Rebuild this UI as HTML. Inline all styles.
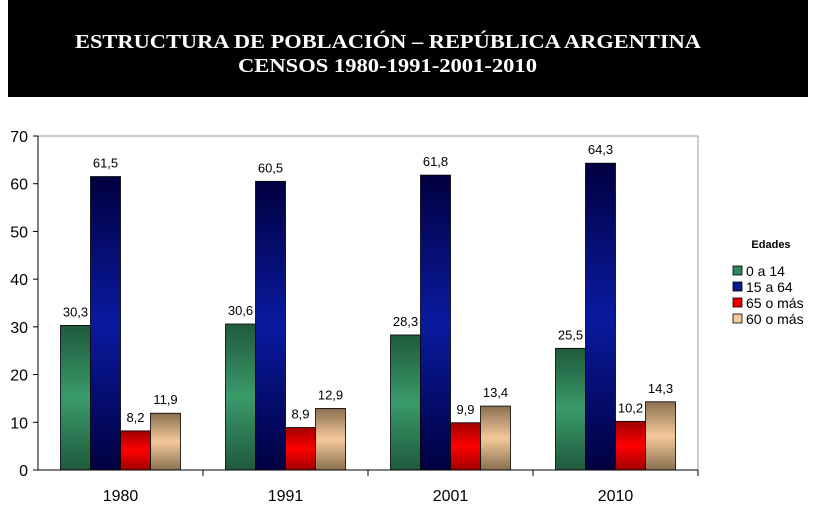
<!DOCTYPE html>
<html><head><meta charset="utf-8"><style>
body{margin:0;background:#fff;width:817px;height:508px;overflow:hidden;font-family:"Liberation Sans",sans-serif}
</style></head><body>
<svg width="817" height="508">
<defs>
<linearGradient id="gG" x1="0" y1="0" x2="0" y2="1"><stop offset="0" stop-color="#1f5a3c"/><stop offset="0.5" stop-color="#3a9a6a"/><stop offset="1" stop-color="#1f5a3c"/></linearGradient>
<linearGradient id="gB" x1="0" y1="0" x2="0" y2="1"><stop offset="0" stop-color="#000040"/><stop offset="0.5" stop-color="#0a1aa0"/><stop offset="1" stop-color="#000040"/></linearGradient>
<linearGradient id="gR" x1="0" y1="0" x2="0" y2="1"><stop offset="0" stop-color="#a00000"/><stop offset="0.5" stop-color="#ff0000"/><stop offset="1" stop-color="#a00000"/></linearGradient>
<linearGradient id="gT" x1="0" y1="0" x2="0" y2="1"><stop offset="0" stop-color="#8a7050"/><stop offset="0.5" stop-color="#f5c89a"/><stop offset="1" stop-color="#8a7050"/></linearGradient>
</defs>
<rect x="8" y="0" width="800" height="97" fill="#000"/>
<text x="75" y="48" textLength="626" lengthAdjust="spacingAndGlyphs" fill="#fff" font-family="Liberation Serif,serif" font-weight="bold" font-size="20">ESTRUCTURA DE POBLACIÓN  – REPÚBLICA ARGENTINA</text>
<text x="238" y="72" textLength="299" lengthAdjust="spacingAndGlyphs" fill="#fff" font-family="Liberation Serif,serif" font-weight="bold" font-size="20">CENSOS 1980-1991-2001-2010</text>
<g id="plot"></g>
<text x="771" y="248" text-anchor="middle" font-size="11" font-weight="bold">Edades</text>
<g id="legend"></g>
</svg>
<script>
const categories=["1980","1991","2001","2010"];
const seriesNames=["0 a 14","15 a 64","65 o más","60 o más"];
const s0=[30.3,30.6,28.3,25.5];
const s1=[61.5,60.5,61.8,64.3];
const s2=[8.2,8.9,9.9,10.2];
const s3=[11.9,12.9,13.4,14.3];
const yTicks=[0,10,20,30,40,50,60,70];
const series=[s0,s1,s2,s3];
const fills=["url(#gG)","url(#gB)","url(#gR)","url(#gT)"];
const lf=["#2e8a5a","#0a1a90","#ee0000","#f5c89a"];
const NS="http://www.w3.org/2000/svg";
const L=38,R=698,T=136,B=470,yMax=70;
const y=v=>B-(v/yMax)*(B-T);
const cw=(R-L)/categories.length;
const bw=30;
const g=document.getElementById('plot');
function mk(t,a,p){const e=document.createElementNS(NS,t);for(const k in a)e.setAttribute(k,a[k]);(p||g).appendChild(e);return e;}
let fr=mk('path',{d:`M${L},${T}H${R}V${B}`,fill:'none',stroke:'#999'});


yTicks.forEach(v=>{
 let t=mk('line',{x1:L-5,x2:L,y1:y(v),y2:y(v),stroke:'#000'});
 
 
 let tx=mk('text',{x:L-10,y:y(v)+6,'text-anchor':'end','font-size':'16'});tx.textContent=v;
 
 
});
categories.forEach((c,i)=>{
 const x0=L+i*cw;
 let tk=mk('line',{x1:x0+cw,x2:x0+cw,y1:B,y2:B+6,stroke:'#000'});
 
 
 let tx=mk('text',{x:x0+cw/2,y:B+31,'text-anchor':'middle','font-size':'16'});tx.textContent=c;
 
 
 const gs=x0+(cw-bw*4)/2;
 series.forEach((s,j)=>{
  const v=s[i];
  let r=mk('rect',{x:gs+j*bw,y:y(v),width:bw,height:B-y(v),fill:fills[j],stroke:'#000','stroke-width':'0.8'});
  
  
  let lb=mk('text',{x:gs+j*bw+bw/2,y:y(v)-9,'text-anchor':'middle','font-size':'13'});lb.textContent=String(v).replace('.',',');
  
  
 });
});
mk('line',{x1:L,x2:L,y1:T,y2:B,stroke:'#000'});
let ax=mk('line',{x1:L,x2:R,y1:B,y2:B,stroke:'#000'});


const lg=document.getElementById('legend');
seriesNames.forEach((n,j)=>{
 const yy=271+j*16;
 let sq=mk('rect',{x:733,y:yy-5,width:9,height:9,fill:lf[j],stroke:'#000','stroke-width':'0.8'},lg);
 
 
 let t=mk('text',{x:746,y:yy+5,'font-size':'14'},lg);t.textContent=n;
 
 
});
</script>
</body></html>
